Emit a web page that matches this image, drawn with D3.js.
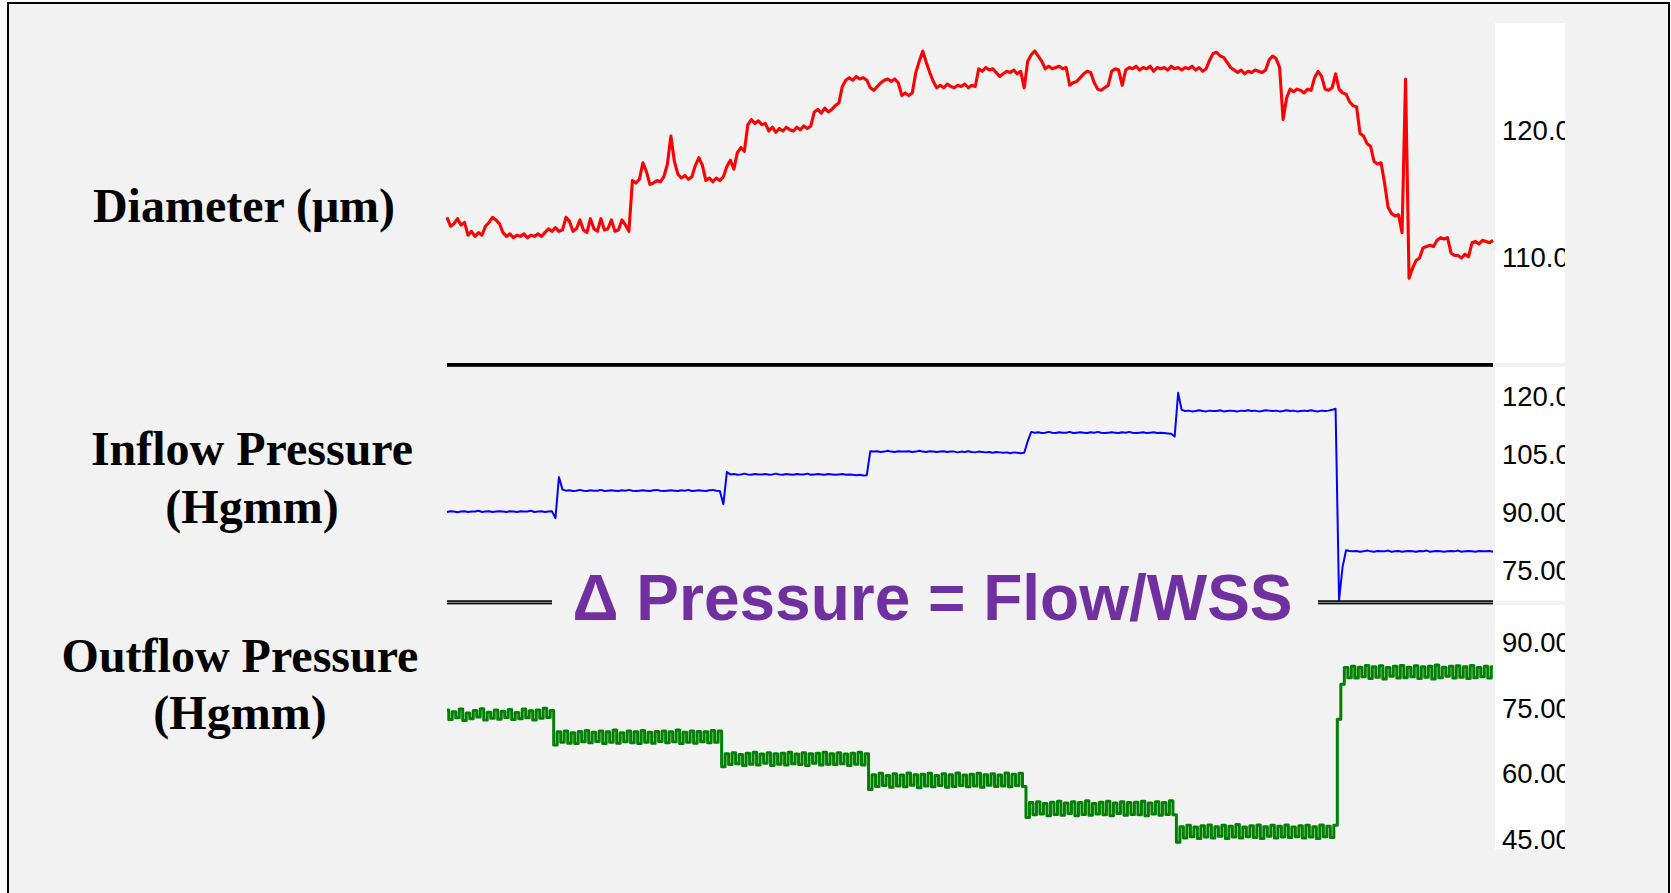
<!DOCTYPE html>
<html>
<head>
<meta charset="utf-8">
<script src="https://cdn.jsdelivr.net/npm/d3@7"></script>
<style>
  html, body { margin: 0; padding: 0; background: #ffffff; }
  svg { display: block; }
</style>
</head>
<body>
<svg id="chart" width="1671" height="893"></svg>
<script>
// Recorded traces, one sample per time step (same time base for all three channels)
const diameter = [
  113.2, 112.5, 112.7, 113.1, 112.6, 112.8,
  111.8, 112.1, 111.7, 112.0, 111.8,
  112.5, 112.8,
  113.2, 113.0, 112.7,
  112.0,
  111.7, 111.9, 111.6, 111.8, 111.7, 111.9, 111.6, 111.8, 111.7, 111.9, 111.7,
  112.0, 112.3, 112.1, 112.4, 112.1, 112.2,
  113.2, 112.9,
  112.1, 112.3, 113.0, 112.2, 112.0, 113.1, 112.3, 112.1, 113.1, 112.2, 112.3, 113.0, 112.1, 112.2, 113.0, 112.6, 112.1,
  116.1, 115.9, 116.2,
  117.5, 116.8, 115.8,
  115.9, 116.1, 116.0, 116.4,
  117.4, 119.6, 117.6, 116.6,
  116.3, 116.5, 116.2, 116.4,
  117.3, 117.9, 117.3,
  116.1, 116.3, 116.0, 116.3, 116.1, 116.4,
  117.2, 117.7, 117.0,
  118.3, 118.7, 118.4,
  120.5, 120.9, 120.6, 120.8, 120.5, 120.6,
  120.0, 120.3, 119.9, 120.2, 120.0, 120.3, 120.1,
  120.0, 120.3, 120.1, 120.4, 120.2, 120.4,
  121.5, 121.7, 121.4, 121.8, 121.5, 121.7,
  122.0, 122.2,
  123.5,
  124.0, 124.2, 124.0, 124.3, 124.1, 124.2, 124.0,
  123.4, 123.2, 123.5,
  123.8, 124.0, 124.1, 123.9, 124.1, 123.8,
  122.8, 123.0, 122.8, 123.0,
  124.6, 125.5, 126.3, 125.4, 124.6, 123.9,
  123.4, 123.6, 123.4, 123.7, 123.5, 123.4, 123.6, 123.5, 123.7, 123.4, 123.6, 123.5,
  124.9, 124.7, 125.0, 124.8, 124.9, 124.6,
  124.3,
  124.5, 124.7, 124.6, 124.8, 124.5, 124.7, 123.4,
  125.5, 126.0, 126.3, 125.9, 125.5,
  124.9, 125.1, 124.9, 125.0, 125.1, 124.9, 125.0,
  123.6, 123.8, 123.9,
  124.2, 124.5, 124.7, 124.6,
  123.8, 123.3, 123.2, 123.4, 123.6,
  124.7, 124.9, 124.8,
  123.6,
  124.8, 125.0, 124.9, 125.1, 124.8, 125.0, 124.9, 125.1, 124.7, 125.0, 124.9, 125.0,
  124.8, 125.1, 124.9, 125.0, 124.8, 125.0, 124.9, 125.1, 124.8, 125.0, 124.7, 124.9,
  125.6, 126.1, 126.2, 125.9, 125.8, 125.4,
  125.0, 124.8,
  124.6, 124.8, 124.5, 124.7, 124.6, 124.8, 124.7, 124.6, 124.8,
  125.6, 125.9, 125.7,
  125.0,
  120.9,
  122.6, 123.3, 123.1, 123.3, 123.2, 123.0, 123.3, 123.2,
  124.2, 124.7, 124.3,
  123.3, 123.2, 123.4,
  124.5,
  123.3, 123.0, 122.9,
  122.3, 122.0, 121.9,
  119.8, 119.6,
  119.0, 118.8,
  117.6, 117.4, 117.5,
  115.9,
  114.0,
  113.5, 113.3, 113.4,
  112.0,
  124.1,
  108.4, 109.2,
  109.8, 110.0,
  110.8, 110.9, 111.0, 110.9,
  111.4, 111.6, 111.5, 111.6,
  110.4, 110.2,
  110.2, 110.0, 110.3, 110.1,
  111.2, 111.3, 111.1, 111.4, 111.3, 111.2, 111.4
];

const inflow = [
  90.2, 90.4, 90.3, 90.1, 90.3, 90.4, 90.2, 90.3, 90.3, 90.5,
  90.2, 90.3, 90.4, 90.2, 90.3, 90.4, 90.3, 90.2, 90.4, 90.3,
  90.2, 90.4, 90.3, 90.3, 90.5, 90.2, 90.3, 90.4, 90.2, 90.3, 90.4,
  88.6, 99.2, 96.0,
  95.7, 95.8, 95.6, 95.7, 95.9, 95.7, 95.6, 95.8, 95.7, 95.7,
  95.9, 95.6, 95.7, 95.8, 95.7, 95.6, 95.8, 95.7, 95.9, 95.7,
  95.6, 95.7, 95.8, 95.7, 95.6, 95.8, 95.9, 95.7, 95.6, 95.7,
  95.8, 95.7, 95.6, 95.8, 95.7, 95.9, 95.6, 95.7, 95.8, 95.7,
  95.6, 95.8, 95.9, 95.7, 95.6,
  92.2, 100.5,
  99.9, 100.0, 99.8, 99.9, 100.1, 99.9, 99.8, 100.0, 99.9, 99.9,
  100.0, 99.8, 99.9, 100.1, 99.9, 99.8, 100.0, 99.9, 99.8, 100.0,
  99.9, 99.9, 100.1, 99.8, 99.9, 100.0, 99.9, 99.8, 100.0, 99.9,
  99.8, 99.9, 100.0, 99.8, 99.9, 99.8, 99.7, 99.8, 99.6, 99.7,
  105.9, 105.8, 105.9, 105.7, 105.8, 106.0, 105.8, 105.7, 105.9, 105.8,
  105.8, 105.9, 105.7, 105.8, 106.0, 105.8, 105.7, 105.9, 105.8, 105.7,
  105.8, 105.9, 105.7, 105.8, 105.8, 105.6, 105.8, 105.7, 105.9, 105.7,
  105.6, 105.8, 105.7, 105.6, 105.7, 105.5, 105.7, 105.6, 105.5, 105.6,
  105.4, 105.6, 105.5, 105.4, 105.5,
  108.5, 110.9, 110.7, 110.8, 110.6, 110.7, 110.9, 110.7, 110.6, 110.8,
  110.7, 110.7, 110.9, 110.6, 110.7, 110.8, 110.7, 110.6, 110.8, 110.7,
  110.9, 110.7, 110.6, 110.7, 110.8, 110.7, 110.6, 110.8, 110.7, 110.9,
  110.7, 110.6, 110.7, 110.8, 110.6, 110.7, 110.8, 110.6, 110.7, 110.6,
  110.5, 110.4, 109.7,
  121.0, 116.6, 116.3, 116.4, 116.2, 116.3, 116.5, 116.3, 116.2, 116.4,
  116.3, 116.3, 116.5, 116.2, 116.3, 116.4, 116.3, 116.2, 116.4, 116.3,
  116.5, 116.3, 116.4, 116.2, 116.3, 116.5, 116.4, 116.3, 116.4, 116.2,
  116.3, 116.5, 116.3, 116.4, 116.2, 116.3, 116.4, 116.3, 116.5, 116.3,
  116.2, 116.4, 116.3, 116.4, 116.6, 116.9,
  67.4, 76.0, 80.3, 80.1, 80.0, 80.1, 79.9, 80.0, 80.2, 80.0,
  79.9, 80.1, 80.0, 80.0, 80.2, 79.9, 80.0, 80.1, 79.9, 80.0,
  80.1, 80.0, 79.9, 80.1, 80.0, 80.2, 79.9, 80.0, 80.1, 80.0,
  79.9, 80.0, 80.1, 80.0, 80.2, 79.9, 80.0, 80.1, 80.0, 79.9,
  80.1, 80.0, 80.0, 80.1, 79.9
];

const outflow = [
  74.6, 72.4, 74.2, 72.8, 74.8, 72.2, 73.9, 72.6, 74.5, 73.0,
  74.9, 72.3, 74.1, 72.7, 74.6, 72.5, 74.3, 72.9, 74.7, 72.4,
  74.0, 72.6, 74.8, 72.8, 74.4, 72.3, 74.6, 72.7, 75.0, 72.9, 74.5,
  66.6, 69.6, 67.2, 69.8, 67.0, 69.4, 66.9, 69.7, 67.3, 69.9,
  67.1, 69.5, 67.4, 69.8, 66.9, 69.6, 67.2, 70.0, 67.0, 69.4,
  67.3, 69.8, 67.1, 69.6, 66.9, 69.9, 67.2, 69.5, 67.0, 69.7,
  67.4, 69.8, 67.1, 69.6, 67.3, 70.0, 66.9, 69.5, 67.2, 69.8,
  67.0, 69.7, 67.3, 69.6, 67.1, 69.9, 67.2, 69.8,
  61.6, 64.6, 62.1, 64.8, 62.3, 64.4, 61.9, 64.7, 62.2, 64.9,
  62.0, 64.5, 62.4, 64.8, 61.9, 64.6, 62.2, 64.7, 62.0, 64.9,
  62.3, 64.5, 62.1, 64.8, 61.9, 64.6, 62.4, 64.7, 62.0, 64.9,
  62.2, 64.6, 62.1, 64.8, 62.3, 64.5, 61.9, 64.7, 62.2, 64.9,
  62.0, 64.6,
  56.4, 59.8, 57.1, 60.1, 57.3, 59.6, 56.9, 60.0, 57.2, 59.7,
  57.0, 60.2, 57.4, 59.8, 56.8, 59.9, 57.2, 60.1, 57.0, 59.6,
  57.3, 60.0, 56.9, 59.8, 57.1, 60.2, 57.3, 59.7, 57.0, 59.9,
  57.2, 60.1, 56.9, 59.8, 57.4, 60.0, 57.1, 59.7, 57.2, 60.2,
  57.0, 59.9, 57.3, 60.1, 57.1,
  50.0, 53.4, 50.6, 53.6, 50.8, 53.2, 50.4, 53.5, 50.7, 53.7,
  50.5, 53.3, 50.9, 53.6, 50.4, 53.4, 50.7, 53.8, 50.5, 53.2,
  50.8, 53.5, 50.6, 53.7, 50.4, 53.3, 50.9, 53.6, 50.5, 53.4,
  50.7, 53.5, 50.6, 53.7, 50.4, 53.3, 50.8, 53.6, 50.5, 53.4,
  50.7, 53.8, 50.6,
  44.3, 47.9, 45.3, 48.2, 45.6, 47.8, 45.2, 48.1, 45.5, 48.3,
  45.3, 47.9, 45.7, 48.2, 45.2, 48.0, 45.5, 48.4, 45.3, 47.8,
  45.6, 48.1, 45.4, 48.3, 45.2, 47.9, 45.7, 48.2, 45.3, 48.0,
  45.5, 48.3, 45.4, 47.8, 45.6, 48.1, 45.3, 48.2, 45.5, 47.9,
  45.2, 48.3, 45.6, 48.0, 45.4, 48.2,
  72.5, 80.5, 84.3, 82.0, 84.6, 81.9, 84.4, 82.2, 84.8, 81.8,
  84.5, 82.1, 84.7, 81.7, 84.3, 82.3, 84.6, 81.9, 84.8, 82.0,
  84.4, 82.2, 84.7, 81.8, 84.5, 82.1, 84.6, 81.7, 84.9, 82.0,
  84.4, 82.3, 84.6, 81.9, 84.7, 82.1, 84.5, 81.8, 84.8, 82.0,
  84.3, 82.2, 84.6, 81.9, 84.5
];

// Axis ticks and their printed labels
const diameterTicks = [110, 120];
const diameterTickLabels = ["110.0", "120.0"];
const inflowTicks = [75, 90, 105, 120];
const inflowTickLabels = ["75.00", "90.00", "105.0", "120.0"];
const outflowTicks = [45, 60, 75, 90];
const outflowTickLabels = ["45.00", "60.00", "75.00", "90.00"];

// Channel names shown at the left of each trace
const diameterTitle = ["Diameter (μm)"];
const inflowTitle = ["Inflow Pressure", "(Hgmm)"];
const outflowTitle = ["Outflow Pressure", "(Hgmm)"];
const annotation = "Δ Pressure = Flow/WSS";

// ---------------------------------------------------------------
const svg = d3.select("#chart");

// slide frame
svg.append("rect")
  .attr("x", 8).attr("y", 3)
  .attr("width", 1661).attr("height", 920)
  .attr("fill", "#f2f2f2")
  .attr("stroke", "#000").attr("stroke-width", 2);

const plotLeft = 447, plotRight = 1493;
const stripLeft = 1495, stripRight = 1565;
const labelX = 1502;

const panels = [
  { data: diameter, color: "#ff0000", width: 3.1, curve: d3.curveLinear, domain: [110, 120], range: [258, 131],
    ticks: diameterTicks, labels: diameterTickLabels, strip: [23, 363],
    title: diameterTitle, titleX: 244, titleY: 222 },
  { data: inflow, color: "#0000ff", width: 2, curve: d3.curveLinear, domain: [75, 120], range: [570.7, 396.7],
    ticks: inflowTicks, labels: inflowTickLabels, strip: [367, 600.7],
    title: inflowTitle, titleX: 252, titleY: 465 },
  { data: outflow, color: "#008000", width: 3, curve: d3.curveStep, domain: [45, 90], range: [839.3, 642.7],
    ticks: outflowTicks, labels: outflowTickLabels, strip: [605, 849.3],
    title: outflowTitle, titleX: 240, titleY: 671.7 }
];

const defs = svg.append("defs");

panels.forEach((p, k) => {
  const x = d3.scaleLinear().domain([0, p.data.length - 1]).range([plotLeft, plotRight]);
  const y = d3.scaleLinear().domain(p.domain).range(p.range);

  // white strip behind the scale labels
  svg.append("rect")
    .attr("x", stripLeft).attr("y", p.strip[0])
    .attr("width", stripRight - stripLeft).attr("height", p.strip[1] - p.strip[0])
    .attr("fill", "#ffffff");

  // trace
  svg.append("path")
    .datum(p.data)
    .attr("fill", "none")
    .attr("stroke", p.color)
    .attr("stroke-width", p.width)
    .attr("stroke-linejoin", "round")
    .attr("d", d3.line().curve(p.curve).x((d, i) => x(i)).y(d => y(d)));

  // scale labels, clipped to the strip
  const clipId = "clip-axis-" + k;
  defs.append("clipPath").attr("id", clipId)
    .append("rect")
    .attr("x", stripLeft).attr("y", p.strip[0])
    .attr("width", stripRight - stripLeft).attr("height", p.strip[1] - p.strip[0]);

  const axisHolder = svg.append("g").attr("clip-path", `url(#${clipId})`);
  const axisG = axisHolder.append("g").attr("transform", `translate(${labelX},0)`);
  axisG.call(
    d3.axisRight(y)
      .tickValues(p.ticks)
      .tickFormat((d, i) => p.labels[i])
      .tickSize(0)
      .tickPadding(0)
  );
  axisG.select(".domain").remove();
  axisG.selectAll(".tick line").remove();
  axisG.attr("font-family", "'Liberation Sans', Arial, sans-serif").attr("font-size", 27.5);
  axisG.selectAll(".tick text")
    .attr("x", 0)
    .attr("fill", "#000");

  // channel name
  const t = svg.append("text")
    .attr("x", p.titleX).attr("y", p.titleY)
    .attr("text-anchor", "middle")
    .attr("font-family", "'Liberation Serif', 'Times New Roman', serif")
    .attr("font-weight", "bold")
    .attr("font-size", 48)
    .attr("fill", "#000");
  p.title.forEach((line, j) => {
    t.append("tspan").attr("x", p.titleX).attr("dy", j === 0 ? 0 : 57.5).text(line);
  });
});

// divider between the diameter and inflow channels
svg.append("rect")
  .attr("x", plotLeft).attr("y", 363)
  .attr("width", plotRight - plotLeft).attr("height", 3.8)
  .attr("fill", "#000");

// divider between inflow and outflow, broken by the annotation
[[plotLeft, 552], [1318, plotRight]].forEach(([a, b]) => {
  svg.append("rect").attr("x", a).attr("y", 600.2).attr("width", b - a).attr("height", 4.2).attr("fill", "#111");
  svg.append("rect").attr("x", a).attr("y", 601.9).attr("width", b - a).attr("height", 0.9).attr("fill", "#9a9a9a");
});

svg.append("text")
  .attr("x", 572.5).attr("y", 619.5)
  .attr("font-family", "'Liberation Sans', Arial, sans-serif")
  .attr("font-weight", "bold")
  .attr("font-size", 64)
  .attr("fill", "#7030a0")
  .text(annotation);
</script>
</body>
</html>
